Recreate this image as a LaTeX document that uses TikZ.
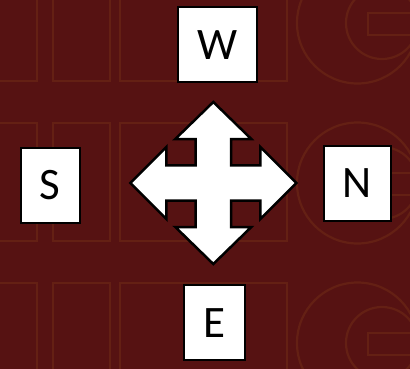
\documentclass[tikz,border=0pt]{standalone}
\usepackage{fontspec}
\setmainfont{Carlito}
\definecolor{bg}{RGB}{86,18,18}
\definecolor{pat}{RGB}{100,32,20}
\begin{document}
\begin{tikzpicture}[x=1pt,y=-1pt,
  box/.style={draw=black,line width=2pt,fill=white,inner sep=0pt,font=\fontsize{45}{45}\selectfont},
  patline/.style={draw=pat,line width=2.2pt},
  arrowshape/.style={draw=black,line width=2.5pt,fill=white,line join=miter}]
\useasboundingbox (0,0) rectangle (410,368);
\fill[bg] (-6,-6) rectangle (416,374);
% faint background pattern
\begin{scope}
\clip (-6,-6) rectangle (416,374);
\foreach \c in {23,183,343}{
  \draw[patline] (-10,\c-60) rectangle (37,\c+58);
  \draw[patline] (53,\c-60) rectangle (110,\c+58);
  \draw[patline] (120,\c-60) rectangle (287,\c+58);
  \draw[patline] (357.5,\c) circle (60.5);
  \draw[patline] (382,\c) circle (36);
  \draw[patline] (368,\c-10) rectangle (420,\c+12);
}
\end{scope}
% central four-way arrow
\coordinate (c) at (213.3,183);
\draw[arrowshape, shift={(c)}]
  (0,-81) -- (38,-44) -- (17.7,-44) -- (17.7,-17.7) -- (47,-17.7) -- (47,-36)
  -- (83,0) -- (47,36) -- (47,17.7) -- (17.7,17.7) -- (17.7,44) -- (38,44)
  -- (0,81) -- (-38,44) -- (-17.7,44) -- (-17.7,17.7) -- (-47,17.7) -- (-47,36)
  -- (-83,0) -- (-47,-36) -- (-47,-17.7) -- (-17.7,-17.7) -- (-17.7,-44) -- (-38,-44) -- cycle;
% boxes
\node[box,minimum width=79pt,minimum height=75pt] (W) at (217.2,44.7) {W};
\node[box,minimum width=58.7pt,minimum height=75.3pt] (S) at (50.3,185.3) {S};
\node[box,minimum width=67pt,minimum height=74.4pt] (N) at (357.2,183.5) {N};
\node[box,minimum width=60.4pt,minimum height=74.7pt] (E) at (214.5,322.7) {E};
\end{tikzpicture}
\end{document}
